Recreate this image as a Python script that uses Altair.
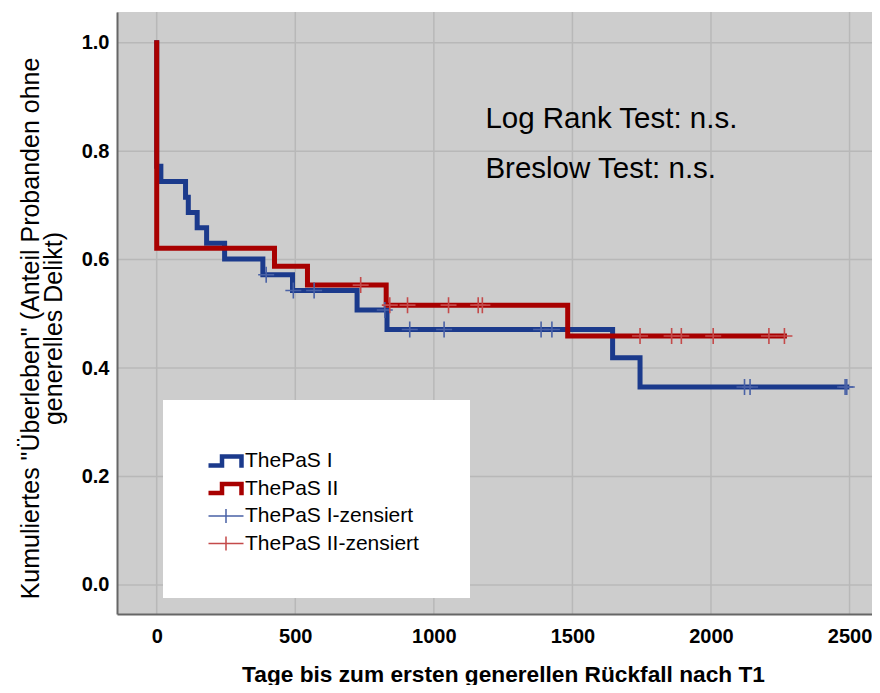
import altair as alt
import pandas as pd

# ---- data (days, cumulative survival) ----
t_I = [0, 0, 15, 104, 114, 146, 180, 245, 383, 490, 723, 831, 1645, 1744, 2490]
s_I = [1.0, 0.772, 0.744, 0.715, 0.687, 0.659, 0.630, 0.601, 0.572, 0.543, 0.507, 0.471, 0.419, 0.365, 0.365]
t_II = [0, 0, 425, 544, 828, 1483, 2265]
s_II = [1.0, 0.621, 0.588, 0.553, 0.516, 0.459, 0.459]
cens_I = [395, 493, 568, 823, 913, 1037, 1387, 1426, 2121, 2141, 2484, 2490]
cens_II = [736, 841, 905, 1053, 1160, 1175, 1744, 1858, 1893, 2008, 2209, 2265]

leg_labels = ["ThePaS I", "ThePaS II", "ThePaS I-zensiert", "ThePaS II-zensiert"]
ann_text = ["Log Rank Test: n.s.", "Breslow Test: n.s."]
ann_x = [1186, 1186]
ann_y = [0.842, 0.750]
x_ticks = [0, 500, 1000, 1500, 2000, 2500]
y_ticks = [0.0, 0.2, 0.4, 0.6, 0.8, 1.0]

BLUE = "#1b3a8c"
RED = "#a80000"
BLUE_C = "#4a62a6"
RED_C = "#c44a4a"
BG = "#cdcdcd"
GRID = "#b8b8b8"
FONT = "Liberation Sans"
W, H = 755, 602


def step_value(t, ts, ss):
    v = ss[0]
    for ti, si in zip(ts, ss):
        if ti <= t:
            v = si
    return v


curve_I = pd.DataFrame({"t": t_I, "s": s_I, "i": range(len(t_I))})
curve_II = pd.DataFrame({"t": t_II, "s": s_II, "i": range(len(t_II))})
cdf_I = pd.DataFrame({"t": cens_I, "s": [step_value(c, t_I, s_I) for c in cens_I]})
cdf_II = pd.DataFrame({"t": cens_II, "s": [step_value(c, t_II, s_II) for c in cens_II]})

xscale = alt.Scale(domain=[-143.3, 2581], nice=False, zero=False)
yscale = alt.Scale(domain=[-0.0536, 1.0567], nice=False, zero=False)

xaxis = alt.Axis(
    values=x_ticks, format="d", title="Tage bis zum ersten generellen Rückfall nach T1",
    titleFont=FONT, titleFontSize=22.7, titleFontWeight="bold", titleColor="#000",
    titleX=386, titleY=67, titleAlign="center", titleBaseline="alphabetic",
    labelFont=FONT, labelFontSize=20, labelFontWeight="bold", labelColor="#000",
    labelPadding=12, ticks=False, grid=False,
    domainColor="#666666", domainWidth=2, labelFlush=False, zindex=1,
)
yaxis = alt.Axis(
    values=y_ticks, format=".1f",
    title=["Kumuliertes \"Überleben\" (Anteil Probanden ohne", "generelles Delikt)"],
    titleFont=FONT, titleFontSize=25, titleFontWeight="normal", titleColor="#000",
    titleAngle=270, titleX=-87, titleY=316, titleAlign="center", titleBaseline="middle",
    titleLineHeight=23,
    labelFont=FONT, labelFontSize=20, labelFontWeight="bold", labelColor="#000",
    labelPadding=8, ticks=False, grid=False,
    domainColor="#666666", domainWidth=2, labelFlush=False, zindex=1,
)

X = alt.X("t:Q", scale=xscale, axis=xaxis)
Y = alt.Y("s:Q", scale=yscale, axis=yaxis)

# plot background and grid
bg = alt.Chart(pd.DataFrame({"a": [0]})).mark_rect(color=BG).encode(
    x=alt.value(0), x2=alt.value(W), y=alt.value(0), y2=alt.value(H)
)
vgrid = alt.Chart(pd.DataFrame({"t": x_ticks})).mark_rule(color=GRID, strokeWidth=1.5).encode(x=X)
hgrid = alt.Chart(pd.DataFrame({"s": y_ticks})).mark_rule(color=GRID, strokeWidth=1.5).encode(y=Y)

# legend box
box = alt.Chart(pd.DataFrame({"a": [0]})).mark_rect(color="white").encode(
    x=alt.value(46), x2=alt.value(353), y=alt.value(388), y2=alt.value(586)
)

line_I = alt.Chart(curve_I).mark_line(
    interpolate="step-after", color=BLUE, strokeWidth=5, strokeCap="square", strokeJoin="miter"
).encode(x=X, y=Y, order="i:Q")
line_II = alt.Chart(curve_II).mark_line(
    interpolate="step-after", color=RED, strokeWidth=5, strokeCap="square", strokeJoin="miter"
).encode(x=X, y=Y, order="i:Q")

CROSS = "M-1,0L1,0M0,-1L0,1"
cmark_I = alt.Chart(cdf_I).mark_point(
    shape=CROSS, filled=False, size=256, strokeWidth=1.6, color=BLUE_C, opacity=1
).encode(x=X, y=Y)
cmark_II = alt.Chart(cdf_II).mark_point(
    shape=CROSS, filled=False, size=256, strokeWidth=1.6, color=RED_C, opacity=1
).encode(x=X, y=Y)

STEP_SYM = ("M-1.25,0.482L-0.125,0.482L-0.125,-0.161L0.946,-0.161L0.946,0.482"
            "L1.268,0.482L1.268,-0.482L-0.446,-0.482L-0.446,0.161L-1.25,0.161Z")
CROSS_SYM = ("M-1.25,-0.054L1.25,-0.054L1.25,0.054L-1.25,0.054Z"
             "M-0.054,-0.5L0.054,-0.5L0.054,0.5L-0.054,0.5Z")

leg = alt.Legend(
    orient="none", legendX=95, legendY=435, title=None, padding=0,
    labelFont=FONT, labelFontSize=21, labelColor="#000", labelLimit=500,
    symbolSize=784, symbolStrokeWidth=0, rowPadding=3.5, labelOffset=5, symbolOpacity=1,
)
legend_layer = alt.Chart(pd.DataFrame({"label": leg_labels})).transform_filter("false").mark_point(
    filled=True, opacity=1, strokeWidth=0
).encode(
    color=alt.Color("label:N", scale=alt.Scale(domain=leg_labels, range=[BLUE, RED, BLUE_C, RED_C]), legend=leg),
    shape=alt.Shape("label:N", scale=alt.Scale(domain=leg_labels, range=[STEP_SYM, STEP_SYM, CROSS_SYM, CROSS_SYM]), legend=leg),
)

ann = alt.Chart(pd.DataFrame({"t": ann_x, "s": ann_y, "text": ann_text})).mark_text(
    align="left", baseline="alphabetic", font=FONT, fontSize=29.5, color="#000"
).encode(x=X, y=Y, text="text:N")

chart = alt.layer(bg, vgrid, hgrid, box, line_I, line_II, cmark_I, cmark_II, ann, legend_layer).properties(
    width=W, height=H,
    autosize=alt.AutoSizeParams(type="none"),
    padding={"left": 109, "top": 4, "right": 0, "bottom": 71},
).configure(background="white").configure_view(strokeWidth=0)

chart.save("out.html", embed_options={"renderer": "svg", "actions": False})
